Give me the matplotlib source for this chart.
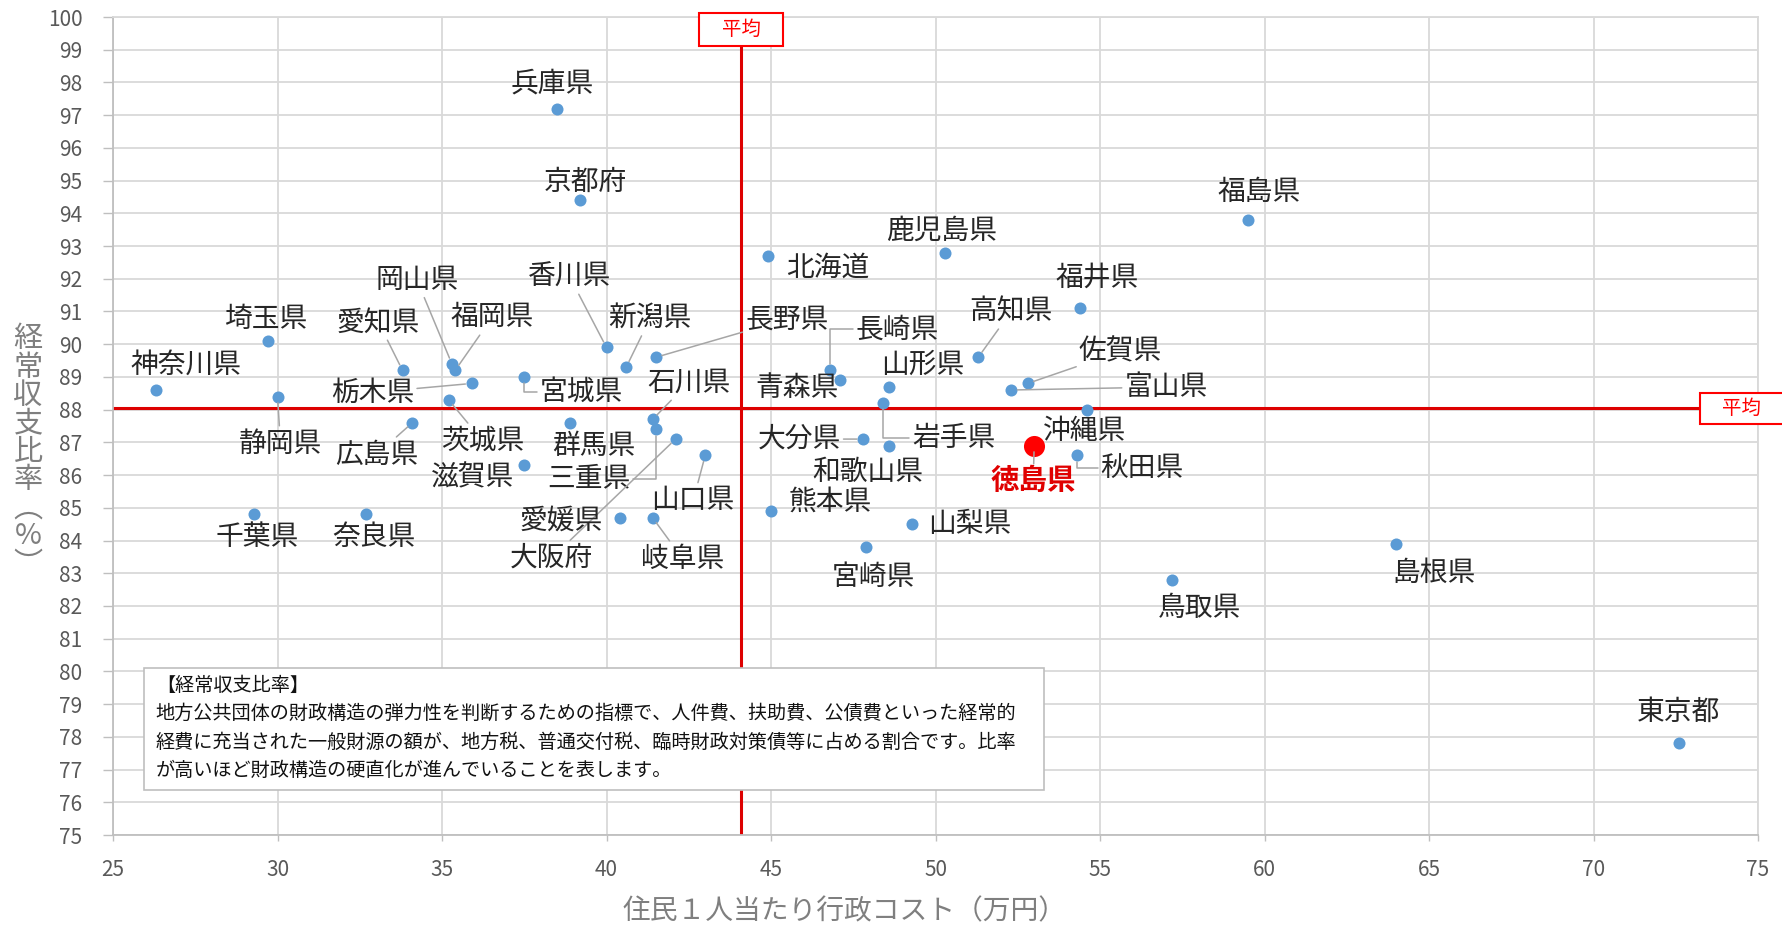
import matplotlib
matplotlib.use('Agg')
import matplotlib.pyplot as plt
from matplotlib.patches import Rectangle
from matplotlib.transforms import IdentityTransform

plt.rcParams['font.family'] = ['Noto Sans CJK JP', 'DejaVu Sans']

# --- data: 住民1人当たり行政コスト(万円) / 経常収支比率(%)
names = ['北海道', '青森県', '岩手県', '宮城県', '秋田県', '山形県', '福島県',
         '茨城県', '栃木県', '群馬県', '埼玉県', '千葉県', '東京都', '神奈川県',
         '新潟県', '富山県', '石川県', '福井県', '山梨県', '長野県', '岐阜県',
         '静岡県', '愛知県', '三重県', '滋賀県', '京都府', '大阪府', '兵庫県',
         '奈良県', '和歌山県', '鳥取県', '島根県', '岡山県', '広島県', '山口県',
         '徳島県', '香川県', '愛媛県', '高知県', '福岡県', '佐賀県', '長崎県',
         '熊本県', '大分県', '宮崎県', '鹿児島県', '沖縄県']
cost = [44.9, 47.1, 48.4, 37.5, 54.3, 48.6, 59.5,
        35.2, 35.9, 38.9, 29.7, 29.3, 72.6, 26.3,
        40.6, 52.3, 41.4, 54.4, 49.3, 41.5, 41.4,
        30.0, 33.8, 41.5, 37.5, 39.2, 42.1, 38.5,
        32.7, 48.6, 57.2, 64.0, 35.3, 34.1, 43.0,
        53.0, 40.0, 40.4, 51.3, 35.4, 52.8, 46.8,
        45.0, 47.8, 47.9, 50.3, 54.6]
ratio = [92.7, 88.9, 88.2, 89.0, 86.6, 88.7, 93.8,
         88.3, 88.8, 87.6, 90.1, 84.8, 77.8, 88.6,
         89.3, 88.6, 87.7, 91.1, 84.5, 89.6, 84.7,
         88.4, 89.2, 87.4, 86.3, 94.4, 87.1, 97.2,
         84.8, 86.9, 82.8, 83.9, 89.4, 87.6, 86.6,
         86.9, 89.9, 84.7, 89.6, 89.2, 88.8, 89.2,
         84.9, 87.1, 83.8, 92.8, 88.0]
avg_cost = 44.1
avg_ratio = 88.04
highlight = '徳島県'

x_ticks = list(range(25, 80, 5))
y_ticks = list(range(75, 101))

note = ('【経常収支比率】\n'
        '地方公共団体の財政構造の弾力性を判断するための指標で、人件費、扶助費、公債費といった経常的\n'
        '経費に充当された一般財源の額が、地方税、普通交付税、臨時財政対策債等に占める割合です。比率\n'
        'が高いほど財政構造の硬直化が進んでいることを表します。')

# label placement: offset of label centre from point (px, y down), leader style
label_pos = {
    '北海道': (60, 12, None), '青森県': (-43, 8, None), '岩手県': (71, 35, 'elbow'),
    '宮城県': (57, 15, 'elbow'), '秋田県': (65, 13, 'elbow'), '山形県': (33, -22, None),
    '福島県': (11, -28, None), '茨城県': (34, 41, 'line'), '栃木県': (-99, 9, 'line'),
    '群馬県': (24, 23, None), '埼玉県': (-2, -22, None), '千葉県': (3, 23, None),
    '東京都': (-1, -32, None), '神奈川県': (30, -25, None), '新潟県': (24, -49, 'line'),
    '富山県': (155, -3, 'line'), '石川県': (36, -37, 'line'), '福井県': (17, -30, None),
    '山梨県': (57, 0, None), '長野県': (131, -38, 'line'), '岐阜県': (30, 41, 'line'),
    '静岡県': (3, 47, 'line'), '愛知県': (-24, -48, 'line'), '三重県': (-67, 50, 'elbow'),
    '滋賀県': (-52, 12, None), '京都府': (5, -18, None), '大阪府': (-124, 119, 'line'),
    '兵庫県': (-5, -25, None), '奈良県': (8, 23, None), '和歌山県': (-22, 26, None),
    '鳥取県': (27, 28, None), '島根県': (38, 29, None), '岡山県': (-35, -84, 'line'),
    '広島県': (-36, 32, 'line'), '山口県': (-12, 45, 'line'), '徳島県': (-1, 35, 'line'),
    '香川県': (-37, -71, 'line'), '愛媛県': (-58, 3, None), '高知県': (33, -46, 'line'),
    '福岡県': (37, -53, 'line'), '佐賀県': (93, -32, 'line'), '長崎県': (67, -41, 'elbow'),
    '熊本県': (59, -9, None), '大分県': (-64, 0, 'line'), '宮崎県': (7, 30, None),
    '鹿児島県': (-4, -22, None), '沖縄県': (-2, 21, None),
}

W, H = 1783, 926
fig = plt.figure(figsize=(W / 100, H / 100), dpi=100)
ax = fig.add_axes([113 / W, 1 - 835 / H, 1645 / W, 818 / H])
ax.set_xlim(25, 75)
ax.set_ylim(75, 100)
ax.set_xticks(x_ticks)
ax.set_yticks(y_ticks)
ax.grid(True, color='#d9d9d9', linewidth=1.3, zorder=0)
ax.set_axisbelow(True)
for s in ax.spines.values():
    s.set_color('#d9d9d9')
    s.set_linewidth(1.3)
ax.spines['left'].set_color('#bfbfbf')
ax.spines['bottom'].set_color('#bfbfbf')
ax.tick_params(axis='y', length=7, width=1, color='#bfbfbf', pad=15,
               labelsize=15, labelcolor='#595959')
ax.tick_params(axis='x', length=4, width=1, color='#bfbfbf', pad=13,
               labelsize=15, labelcolor='#595959')

# average lines
ax.axvline(avg_cost, color='#dd0000', linewidth=2.2, zorder=2)
ax.axhline(avg_ratio, color='#dd0000', linewidth=2.2, zorder=2)

# points
others = [i for i, n in enumerate(names) if n != highlight]
ax.scatter([cost[i] for i in others], [ratio[i] for i in others],
           s=75, color='#5b9bd5', zorder=4, linewidths=0)
hi = names.index(highlight)
ax.scatter([cost[hi]], [ratio[hi]], s=230, color='#ff0000', zorder=5, linewidths=0)

# labels
for i, n in enumerate(names):
    dx, dy, leader = label_pos[n]
    red = n == highlight
    kw = dict(textcoords='offset pixels', ha='center', va='center',
              fontsize=20.5 if red else 20,
              color='#e00000' if red else '#262626',
              fontweight='bold' if red else 'normal', zorder=6)
    if leader == 'line':
        kw['arrowprops'] = dict(arrowstyle='-', color='#a6a6a6', lw=1.1,
                                shrinkA=0, shrinkB=4.5)
    elif leader == 'elbow':
        kw['arrowprops'] = dict(arrowstyle='-', color='#a6a6a6', lw=1.1,
                                shrinkA=0, shrinkB=4.5,
                                connectionstyle='angle,angleA=0,angleB=90,rad=0')
    ax.annotate(n, (cost[i], ratio[i]), xytext=(dx, -dy), **kw)

# note box
ax.add_patch(Rectangle((0.0188, 0.055), 0.5472, 0.149, transform=ax.transAxes,
                       facecolor='white', edgecolor='#bfbfbf', linewidth=1.2, zorder=7))
ax.text(0.026, 0.1955, note, transform=ax.transAxes, ha='left', va='top',
        fontsize=13.8, color='#111111', linespacing=1.45, zorder=8)

# "平均" boxes
px, _ = ax.transData.transform((avg_cost, 100))
fig.add_artist(Rectangle((px - 42, H - 46), 84, 33, transform=IdentityTransform(),
                         facecolor='white', edgecolor='#ff0000', linewidth=1.5, zorder=9))
fig.text(px / W, 1 - 29.5 / H, '平均', ha='center', va='center', fontsize=14,
         color='#ff0000', zorder=10)
_, py = ax.transData.transform((25, avg_ratio))
fig.add_artist(Rectangle((1700, py - 15.5), 100, 31, transform=IdentityTransform(),
                         facecolor='white', edgecolor='#ff0000', linewidth=1.5, zorder=9))
fig.text(1742 / W, py / H, '平均', ha='center', va='center', fontsize=14,
         color='#ff0000', zorder=10)

# axis titles
fig.text(845 / W, 1 - 911 / H, '住民１人当たり行政コスト（万円）', ha='center', va='center',
         fontsize=20, color='#7f7f7f')
fig.text(28 / W, 1 - 452 / H, '\n'.join('経常収支比率︵%︶'), ha='center', va='center',
         fontsize=21, color='#7f7f7f', linespacing=0.92)

fig.savefig('out.png', dpi=100, facecolor='white')
